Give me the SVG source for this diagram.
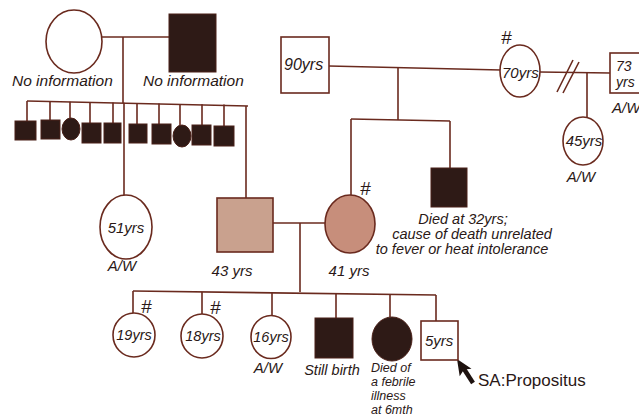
<svg xmlns="http://www.w3.org/2000/svg" width="639" height="417" viewBox="0 0 639 417">
<style>
.ln{fill:none;stroke:#6a2a1e;stroke-width:1.6}
.op{fill:#ffffff;stroke:#6a2a1e;stroke-width:1.6}
.dk{fill:#2e1a16;stroke:#4a2018;stroke-width:1}
.sq{fill:#c9a18e;stroke:#6a2a1e;stroke-width:1.6}
.ci{fill:#c78e7b;stroke:#6a2a1e;stroke-width:1.6}
text{font-family:"Liberation Sans",Arial,sans-serif;font-style:italic;fill:#2a1816;font-size:15px}
.in{font-size:14.5px}
.hs{font-size:16px}
.hash{font-size:19px}
.sm{font-size:14px}
.xs{font-size:12.5px}
.pr{font-style:normal;font-size:17px}
.mid{text-anchor:middle}
</style>
<rect width="639" height="417" fill="#ffffff"/>

<g id="connectors">
<!-- gen I left couple -->
<path class="ln" d="M102,37 H169"/>
<path class="ln" d="M123,37 V103"/>
<path class="ln" d="M27,101 L248,106"/>
<path class="ln" d="M27,101 V121 M50,101.4 V120 M70,101.8 V118 M90,102.1 V123 M113,102.6 V123 M137,103 V124 M159,103.4 V124 M180,103.9 V125 M202,104.2 V125 M224,104.6 V126"/>
<path class="ln" d="M124,102.8 V195"/>
<path class="ln" d="M246,105.9 V198"/>
<!-- gen I right couple -->
<path class="ln" d="M329,66 L501,70"/>
<path class="ln" d="M398,68 V120"/>
<path class="ln" d="M351,119 L450,121"/>
<path class="ln" d="M351,119 V195"/>
<path class="ln" d="M450,121 V168"/>
<path class="ln" d="M540,72 L610,73"/>
<path class="ln" d="M557,92 L573,60 M563,93 L579,62"/>
<path class="ln" d="M587,72.6 V117"/>
<!-- gen II couple -->
<path class="ln" d="M273,223 H325"/>
<path class="ln" d="M300,223 V292"/>
<path class="ln" d="M133,291 L436,295"/>
<path class="ln" d="M133,291 V313 M202,292 V314 M272,292.8 V315.5 M336,293.7 V318 M390,294.4 V317 M436,295 V321"/>
<!-- proband arrow -->
<path d="M473,383 L464,369" fill="none" stroke="#1e120f" stroke-width="4.5"/>
<path d="M457,359 L471.5,368.7 L464,369.5 L459.7,376.3 Z" fill="#1e120f"/>
</g>

<g id="gen1-left-mother">
<ellipse class="op" cx="74" cy="41.5" rx="28" ry="31.5"/>
<text x="12" y="86" style="font-size:15.5px">No information</text>
</g>
<g id="gen1-left-father">
<rect class="dk" x="169" y="14" width="47" height="58"/>
<text x="143" y="86" style="font-size:15.5px">No information</text>
</g>

<g id="sib-1"><rect class="dk" x="15" y="121" width="21" height="19"/></g>
<g id="sib-2"><rect class="dk" x="41" y="120" width="19" height="19"/></g>
<g id="sib-3"><ellipse class="dk" cx="71" cy="129" rx="9" ry="11"/></g>
<g id="sib-4"><rect class="dk" x="82" y="123" width="19" height="20"/></g>
<g id="sib-5"><rect class="dk" x="104" y="123" width="17" height="20"/></g>
<g id="sib-6"><rect class="dk" x="129" y="124" width="18" height="19"/></g>
<g id="sib-7"><rect class="dk" x="152" y="124" width="19" height="20"/></g>
<g id="sib-8"><ellipse class="dk" cx="182" cy="136" rx="9" ry="11"/></g>
<g id="sib-9"><rect class="dk" x="192" y="125" width="19" height="20"/></g>
<g id="sib-10"><rect class="dk" x="214" y="126" width="20" height="20"/></g>

<g id="aunt-51">
<ellipse class="op" cx="126" cy="227" rx="26" ry="32"/>
<text class="mid" x="126" y="233">51yrs</text>
<text class="mid" x="122" y="271">A/W</text>
</g>

<g id="father-43">
<rect class="sq" x="217" y="198" width="56" height="54"/>
<text class="mid" x="232" y="276">43 yrs</text>
</g>

<g id="mother-41">
<ellipse class="ci" cx="350" cy="224" rx="25" ry="29"/>
<text class="hash" x="360" y="195">#</text>
<text class="mid" x="349" y="276">41 yrs</text>
</g>

<g id="gf-90">
<rect class="op" x="281" y="37" width="48" height="56"/>
<text x="284" y="70" class="hs">90yrs</text>
</g>

<g id="gm-70">
<ellipse class="op" cx="520" cy="71" rx="20" ry="26"/>
<text class="hash" x="501" y="44">#</text>
<text x="502" y="78">70yrs</text>
</g>

<g id="partner-73">
<rect class="op" x="610" y="53" width="40" height="40"/>
<text x="616" y="71" class="sm">73</text>
<text x="616" y="87" class="sm">yrs</text>
<text x="612" y="113">A/W</text>
</g>

<g id="half-45">
<ellipse class="op" cx="583" cy="141" rx="20" ry="24"/>
<text class="mid" x="584" y="146">45yrs</text>
<text class="mid" x="581" y="182">A/W</text>
</g>

<g id="uncle-32">
<rect class="dk" x="431" y="168" width="36" height="39"/>
<text class="mid" x="463" y="224" style="font-size:14.5px">Died at 32yrs;</text>
<text class="mid" x="472" y="239" style="font-size:14.5px">cause of death unrelated</text>
<text class="mid" x="462" y="254" style="font-size:14.5px">to fever or heat intolerance</text>
</g>

<g id="child-19">
<ellipse class="op" cx="134" cy="335" rx="21" ry="22"/>
<text class="hash" x="141" y="313">#</text>
<text class="mid in" x="134" y="340">19yrs</text>
</g>
<g id="child-18">
<ellipse class="op" cx="202" cy="336" rx="21" ry="22"/>
<text class="hash" x="210" y="314">#</text>
<text class="mid in" x="203" y="341">18yrs</text>
</g>
<g id="child-16">
<ellipse class="op" cx="271" cy="337" rx="20" ry="21.5"/>
<text class="mid in" x="271" y="342">16yrs</text>
<text class="mid" x="268" y="373">A/W</text>
</g>
<g id="child-stillbirth">
<rect class="dk" x="315" y="318" width="38" height="40"/>
<text class="mid" x="332" y="375" style="font-size:14.5px">Still birth</text>
</g>
<g id="child-died">
<ellipse class="dk" cx="392" cy="339" rx="20" ry="22"/>
<text class="xs" x="371" y="372">Died of</text>
<text class="xs" x="371" y="386">a febrile</text>
<text class="xs" x="371" y="400">illness</text>
<text class="xs" x="371" y="414">at 6mth</text>
</g>
<g id="proband">
<rect class="op" x="421" y="321" width="37" height="39"/>
<text x="425" y="346">5yrs</text>
<text class="pr" x="478" y="386">SA:Propositus</text>
</g>
</svg>
